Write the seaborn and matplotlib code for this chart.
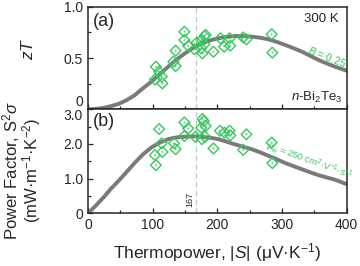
import matplotlib
matplotlib.use("Agg")
import matplotlib.pyplot as plt
from matplotlib.ticker import MultipleLocator
import pandas as pd
import seaborn as sns

# model curves (S in uV/K)
curve_s = [0, 12, 25, 35, 47, 60, 72.5, 85, 98, 111, 124, 137, 150, 163, 176, 189,
           201.5, 214, 227, 240, 253, 266, 279, 292, 305, 318, 331, 344, 356.6, 370, 382, 400]
curve_zt = [0, 0.004, 0.015, 0.03, 0.052, 0.09, 0.139, 0.205, 0.269, 0.344, 0.415, 0.485,
            0.546, 0.6, 0.643, 0.672, 0.692, 0.706, 0.714, 0.714, 0.708, 0.698, 0.682,
            0.657, 0.627, 0.595, 0.561, 0.52, 0.48, 0.445, 0.415, 0.376]
curve_pf = [0, 0.22, 0.48, 0.70, 0.93, 1.20, 1.46, 1.70, 1.90, 2.04, 2.14, 2.19, 2.21,
            2.22, 2.21, 2.18, 2.14, 2.07, 1.99, 1.92, 1.85, 1.76, 1.66, 1.56, 1.45, 1.36,
            1.27, 1.18, 1.10, 1.03, 0.97, 0.84]

# measured points, panel (a)
zt_s = [105, 110, 103.5, 114, 115, 132, 135.5, 135.5, 149, 149, 155, 164.5, 168, 176,
        180, 182, 180, 175, 177, 194, 205, 210.5, 219, 220, 240, 245, 284, 285]
zt_val = [0.415, 0.367, 0.29, 0.318, 0.253, 0.464, 0.422, 0.571, 0.756, 0.675, 0.617,
          0.585, 0.649, 0.675, 0.714, 0.724, 0.634, 0.594, 0.546, 0.561, 0.692, 0.61,
          0.692, 0.62, 0.70, 0.682, 0.731, 0.552]

# measured points, panel (b)
pf_s = [110, 114, 103.5, 115, 105, 133, 135.5, 149, 155, 149, 166, 177, 179, 175, 182,
        176, 181, 194, 204, 211, 219, 220, 240, 245, 284, 285]
pf_val = [2.43, 2.02, 1.68, 1.77, 1.39, 2.02, 1.85, 2.62, 2.45, 2.23, 2.21, 2.72, 2.66,
          2.47, 2.52, 2.14, 2.21, 1.87, 2.38, 2.33, 2.38, 2.25, 1.83, 2.28, 2.04, 1.45]

s_opt = 167

curve = pd.DataFrame({"S": curve_s, "zT": curve_zt, "PF": curve_pf})
pts_a = pd.DataFrame({"S": zt_s, "zT": zt_val})
pts_b = pd.DataFrame({"S": pf_s, "PF": pf_val})

sns.set_style("ticks")
plt.rcParams["font.family"] = ["Liberation Sans", "DejaVu Sans"]
plt.rcParams["mathtext.fontset"] = "custom"
plt.rcParams["mathtext.rm"] = "Liberation Sans"
plt.rcParams["mathtext.it"] = "Liberation Sans:italic"
plt.rcParams["mathtext.bf"] = "Liberation Sans:bold"

green = "#36c85c"
gray = "#7a7a7a"

fig = plt.figure(figsize=(3.6, 2.66), dpi=100)
ax1 = fig.add_axes([0.2444, 0.589, 0.7186, 0.3859])
ax2 = fig.add_axes([0.2444, 0.198, 0.7186, 0.391], sharex=ax1)

for ax, col, pts in [(ax1, "zT", pts_a), (ax2, "PF", pts_b)]:
    ax.axvline(s_opt, color="#c4c4c4", lw=0.9, ls=(0, (4, 3)), zorder=1)
    sns.lineplot(data=curve, x="S", y=col, ax=ax, color=gray, lw=2.8, zorder=2)
    sns.scatterplot(data=pts, x="S", y=col, ax=ax, marker="D", s=30,
                    facecolors="none", edgecolor=green, linewidth=1.0, zorder=3)
    # small dot in the middle of each diamond
    sns.scatterplot(data=pts, x="S", y=col, ax=ax, marker="o", s=1.5,
                    color=green, edgecolor="none", zorder=3)
    ax.set_xlim(0, 400)
    ax.xaxis.set_major_locator(MultipleLocator(100))
    ax.xaxis.set_minor_locator(MultipleLocator(50))
    ax.tick_params(which="both", direction="in", labelsize=10, width=0.9)
    ax.tick_params(which="major", length=3.5)
    ax.tick_params(which="minor", length=2.5)
    for sp in ax.spines.values():
        sp.set_linewidth(1.1)
    ax.set_xlabel("")
    ax.set_ylabel("")

ax1.set_ylim(0, 1.0)
ax1.set_yticks([0, 0.5, 1.0])
ax1.set_yticklabels(["0", "0.5", "1.0"])
ax1.yaxis.set_minor_locator(MultipleLocator(0.25))
ax1.tick_params(axis="x", labelbottom=False)
ax1.get_yticklabels()[0].set_va("bottom")

ax2.set_ylim(0, 3.0)
ax2.set_yticks([0, 1.0, 2.0, 3.0])
ax2.set_yticklabels(["0", "1.0", "2.0", "3.0"])
ax2.yaxis.set_minor_locator(MultipleLocator(0.5))
ax2.get_yticklabels()[-1].set_va("top")

ax1.text(0.02, 0.94, "(a)", transform=ax1.transAxes, fontsize=13, va="top")
ax2.text(0.02, 0.96, "(b)", transform=ax2.transAxes, fontsize=13, va="top")
ax1.text(0.97, 0.88, "300 K", transform=ax1.transAxes, fontsize=9.5, ha="right", va="center")
ax1.text(0.985, 0.12, "$n$-Bi$_2$Te$_3$", transform=ax1.transAxes, fontsize=9.5,
         ha="right", va="center")
ax1.text(370, 0.51, "$B$ = 0.25", color=green, fontsize=7.5, rotation=-21,
         ha="center", va="center")
ax2.text(342, 1.50, "$\\mu_\\mathrm{w}$ = 250 cm$^2$·V$^{-1}$·s$^{-1}$", color=green,
         fontsize=6.8, rotation=-20, ha="center", va="center")
ax2.text(s_opt - 9, 0.4, "167", fontsize=6.5, rotation=90, ha="center", va="center")

fig.text(0.603, 0.05, "Thermopower, |$S$| (μV·K$^{-1}$)", fontsize=12.5, ha="center", va="center")
fig.text(0.078, 0.815, "$zT$", fontsize=12.5, rotation=90, ha="center", va="center")
fig.text(0.03, 0.36, "Power Factor, S$^2$$\\sigma$", fontsize=12, rotation=90,
         ha="center", va="center")
fig.text(0.087, 0.36, "(mW·m$^{-1}$·K$^{-2}$)", fontsize=12, rotation=90,
         ha="center", va="center")

fig.savefig("out.png", dpi=100)
